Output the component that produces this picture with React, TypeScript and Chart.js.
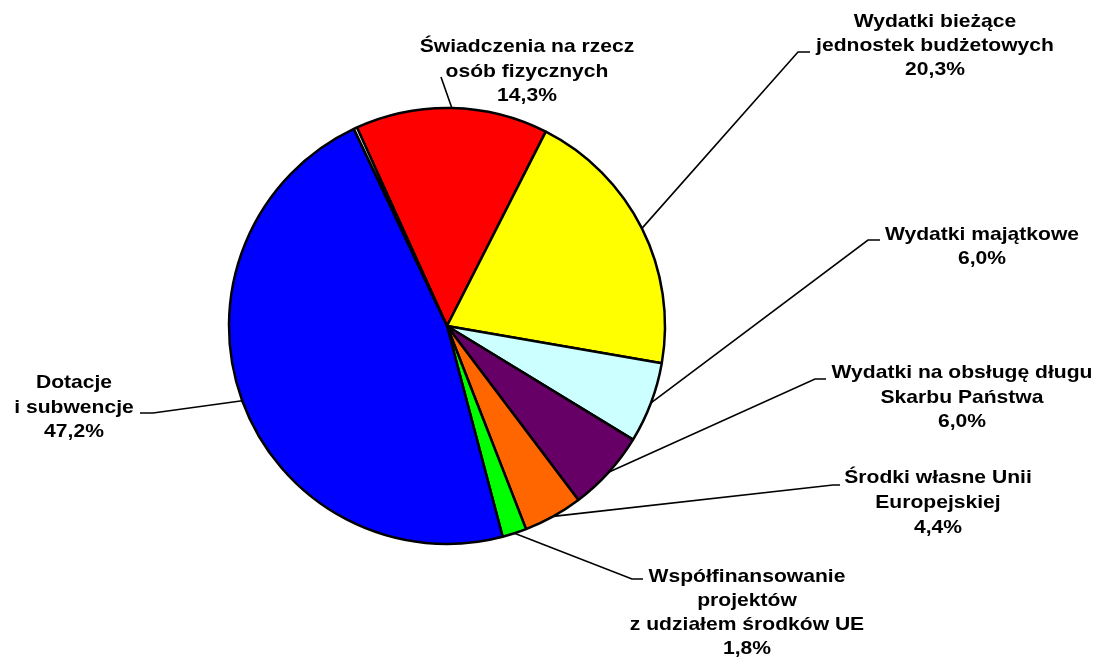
import React, { useEffect, useRef } from "react";
import { Chart, registerables } from "chart.js";

Chart.register(...registerables);

const categories = [
  "Świadczenia na rzecz osób fizycznych",
  "Wydatki bieżące jednostek budżetowych",
  "Wydatki majątkowe",
  "Wydatki na obsługę długu Skarbu Państwa",
  "Środki własne Unii Europejskiej",
  "Współfinansowanie projektów z udziałem środków UE",
  "Dotacje i subwencje",
  "Pozostałe",
];
const values = [14.3, 20.3, 6.0, 6.0, 4.4, 1.8, 47.2, 0.25];
const percentLabels = ["14,3%", "20,3%", "6,0%", "6,0%", "4,4%", "1,8%", "47,2%", ""];
const labelLines: string[][] = [
  ["Świadczenia na rzecz", "osób fizycznych"],
  ["Wydatki bieżące", "jednostek budżetowych"],
  ["Wydatki majątkowe"],
  ["Wydatki na obsługę długu", "Skarbu Państwa"],
  ["Środki własne Unii", "Europejskiej"],
  ["Współfinansowanie", "projektów", "z udziałem środków UE"],
  ["Dotacje", "i subwencje"],
  [],
];
const colors = ["#FF0000", "#FFFF00", "#CCFFFF", "#660066", "#FF6600", "#00FF00", "#0000FF", "#FFFFFF"];

// label layout: text center x, first line center y, line height, leader elbow and end
const labelLayout = [
  { x: 527, y: 47, lh: 24.5, elbow: [441, 77], end: [441, 77] },
  { x: 935, y: 22, lh: 24.2, elbow: [798, 52], end: [810, 52] },
  { x: 982, y: 235, lh: 24, elbow: [868, 240], end: [880, 240] },
  { x: 962, y: 373, lh: 24.5, elbow: [815, 379], end: [826, 379] },
  { x: 938, y: 478, lh: 25, elbow: [833, 485], end: [840, 485] },
  { x: 747, y: 577, lh: 24, elbow: [632, 579], end: [643, 579] },
  { x: 74, y: 383, lh: 24.5, elbow: [153, 413], end: [140, 413] },
  null,
];

const labelPlugin = {
  id: "pieLabels",
  afterDraw(chart: any) {
    const ctx = chart.ctx;
    const meta = chart.getDatasetMeta(0);
    ctx.save();
    meta.data.forEach((arc: any, i: number) => {
      const lay = labelLayout[i];
      if (!lay) return;
      const mid = (arc.startAngle + arc.endAngle) / 2;
      const r = arc.outerRadius;
      const px = arc.x + r * Math.cos(mid);
      const py = arc.y + r * Math.sin(mid);
      ctx.strokeStyle = "#000";
      ctx.lineWidth = 1.6;
      ctx.beginPath();
      ctx.moveTo(px, py);
      ctx.lineTo(lay.elbow[0], lay.elbow[1]);
      ctx.lineTo(lay.end[0], lay.end[1]);
      ctx.stroke();

      ctx.fillStyle = "#000";
      ctx.font = 'bold 18.5px "Liberation Sans", Arial, sans-serif';
      ctx.textAlign = "center";
      ctx.textBaseline = "middle";
      const lines = [...labelLines[i], percentLabels[i]];
      lines.forEach((t, k) => {
        ctx.save();
        ctx.translate(lay.x, lay.y + k * lay.lh);
        ctx.scale(1.14, 1);
        ctx.fillText(t, 0, 0);
        ctx.restore();
      });
    });
    ctx.restore();
  },
};

export default function App() {
  const ref = useRef<HTMLCanvasElement>(null);
  useEffect(() => {
    if (!ref.current) return;
    const chart = new Chart(ref.current, {
      type: "pie",
      data: {
        labels: categories,
        datasets: [
          {
            data: values,
            backgroundColor: colors,
            borderColor: "#000000",
            borderWidth: 2.5,
            radius: 218,
            hoverOffset: 0,
          } as any,
        ],
      },
      options: {
        responsive: false,
        animation: false,
        rotation: -24.4,
        layout: { padding: { left: 0, right: 207, top: 0, bottom: 7 } },
        plugins: {
          legend: { display: false },
          tooltip: { enabled: false },
        },
      },
      plugins: [labelPlugin],
    });
    return () => chart.destroy();
  }, []);
  return (
    <div style={{ position: "absolute", left: 0, top: 0, width: 1101, height: 659, background: "#fff" }}>
      <canvas ref={ref} width={1101} height={659} style={{ width: 1101, height: 659 }} />
    </div>
  );
}
